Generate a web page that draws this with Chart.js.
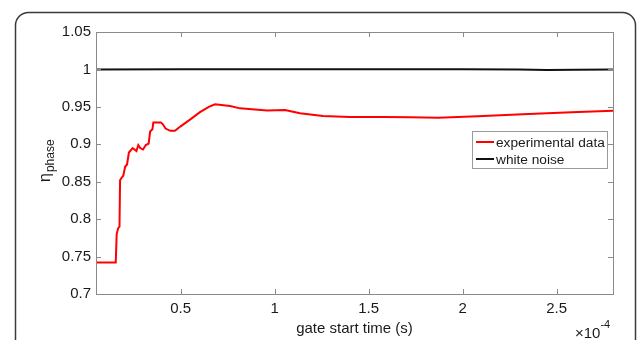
<!DOCTYPE html>
<html>
<head>
<meta charset="utf-8">
<script src="https://cdn.jsdelivr.net/npm/chart.js@4"></script>
<style>
  html, body { margin: 0; padding: 0; background: #fff; }
  #wrap { width: 638px; height: 340px; }
</style>
</head>
<body>
<div id="wrap"><canvas id="c" width="638" height="340"></canvas></div>
<script>
// gate start time, in units of 1e-4 s
const expTime = [0.05, 0.155, 0.16, 0.168, 0.175, 0.178, 0.185, 0.195, 0.205, 0.215, 0.225, 0.245,
  0.265, 0.275, 0.285, 0.3, 0.315, 0.33, 0.338, 0.35, 0.355, 0.375, 0.395, 0.405, 0.42, 0.445,
  0.47, 0.5, 0.55, 0.603, 0.65, 0.683, 0.763, 0.816, 0.96, 1.055, 1.135, 1.257, 1.4, 1.58,
  1.72, 1.87, 2.08, 2.32, 2.58, 2.8];
const expEta = [0.742, 0.742, 0.78, 0.788, 0.79, 0.852, 0.855, 0.858, 0.870, 0.873, 0.889, 0.895,
  0.891, 0.899, 0.895, 0.893, 0.899, 0.901, 0.917, 0.920, 0.929, 0.929, 0.929, 0.927, 0.921, 0.918,
  0.918, 0.924, 0.933, 0.943, 0.950, 0.9534, 0.951, 0.948, 0.945, 0.9458, 0.9414, 0.9378, 0.9364,
  0.9364, 0.936, 0.9355, 0.9374, 0.940, 0.9427, 0.9449];
const noiseTime = [0.05, 0.5, 0.8, 1.2, 1.6, 2.0, 2.3, 2.45, 2.6, 2.8];
const noiseEta = [1.0, 1.0002, 1.0004, 1.0002, 1.0003, 1.0001, 1.0, 0.9993, 0.9995, 1.0];
const xTicks = [0.5, 1, 1.5, 2, 2.5];
const yTicks = [0.7, 0.75, 0.8, 0.85, 0.9, 0.95, 1, 1.05];

const FONT = 'Liberation Sans, Arial, Helvetica, sans-serif';
const axisGray = '#8a8a8a';

const decor = {
  id: 'decor',
  beforeDraw(chart) {
    const ctx = chart.ctx;
    ctx.save();
    ctx.fillStyle = '#fff';
    ctx.fillRect(0, 0, chart.width, chart.height);
    // outer rounded frame
    ctx.strokeStyle = '#3a3a3a';
    ctx.lineWidth = 1.5;
    ctx.beginPath();
    ctx.roundRect(15.5, 12.5, 620, 400, 13);
    ctx.stroke();
    ctx.restore();
  },
  afterDatasetsDraw(chart) {
    const ctx = chart.ctx;
    const a = chart.chartArea;
    const xs = chart.scales.x, ys = chart.scales.y;
    ctx.save();
    // axes box
    ctx.strokeStyle = axisGray;
    ctx.lineWidth = 1;
    ctx.strokeRect(Math.round(a.left) + 0.5, Math.round(a.top) + 0.5,
      Math.round(a.right - a.left), Math.round(a.bottom - a.top));
    // inward ticks on all four sides
    ctx.beginPath();
    xTicks.forEach(v => {
      const px = Math.round(xs.getPixelForValue(v)) + 0.5;
      ctx.moveTo(px, a.bottom); ctx.lineTo(px, a.bottom - 5);
      ctx.moveTo(px, a.top); ctx.lineTo(px, a.top + 5);
    });
    yTicks.forEach(v => {
      const py = Math.round(ys.getPixelForValue(v)) + 0.5;
      ctx.moveTo(a.left, py); ctx.lineTo(a.left + 5, py);
      ctx.moveTo(a.right, py); ctx.lineTo(a.right - 5, py);
    });
    ctx.stroke();

    // legend
    const lx = 472, ly = 131, lw = 135, lh = 37;
    ctx.fillStyle = '#fff';
    ctx.fillRect(lx, ly, lw, lh);
    ctx.strokeStyle = '#9a9a9a';
    ctx.strokeRect(lx + 0.5, ly + 0.5, lw, lh);
    ctx.font = '13.7px ' + FONT;
    ctx.textBaseline = 'middle';
    chart.data.datasets.forEach((ds, i) => {
      const y = ly + 11 + i * 17;
      ctx.strokeStyle = ds.borderColor;
      ctx.lineWidth = 2;
      ctx.beginPath();
      ctx.moveTo(lx + 4, y); ctx.lineTo(lx + 22, y);
      ctx.stroke();
      ctx.fillStyle = '#1a1a1a';
      ctx.fillText(ds.label, lx + 24, y + 1);
    });

    // y label: eta with subscript "phase"
    ctx.fillStyle = '#1a1a1a';
    ctx.save();
    ctx.translate(50, 182);
    ctx.rotate(-Math.PI / 2);
    ctx.textBaseline = 'alphabetic';
    ctx.font = '16px ' + FONT;
    ctx.fillText('η', 0, 0);
    const ew = ctx.measureText('η').width;
    ctx.font = '12px ' + FONT;
    ctx.fillText('phase', ew + 1, 4);
    ctx.restore();

    // exponent label
    ctx.textBaseline = 'alphabetic';
    ctx.font = '15px ' + FONT;
    ctx.fillText('×10', 575, 338);
    const w = ctx.measureText('×10').width;
    ctx.font = '11px ' + FONT;
    ctx.fillText('-4', 575 + w, 328);
    ctx.restore();
  }
};

new Chart(document.getElementById('c'), {
  type: 'line',
  data: {
    datasets: [
      {
        label: 'experimental data',
        data: expTime.map((t, i) => ({ x: t, y: expEta[i] })),
        borderColor: '#ff0000',
        borderWidth: 2,
        pointRadius: 0,
        tension: 0
      },
      {
        label: 'white noise',
        data: noiseTime.map((t, i) => ({ x: t, y: noiseEta[i] })),
        borderColor: '#111111',
        borderWidth: 2,
        pointRadius: 0,
        tension: 0
      }
    ]
  },
  options: {
    responsive: false,
    animation: false,
    layout: { padding: { left: 0, top: 32, right: 25, bottom: 0 } },
    plugins: { legend: { display: false }, tooltip: { enabled: false } },
    scales: {
      x: {
        type: 'linear',
        min: 0.05,
        max: 2.8,
        afterFit: s => { s.height = 46; },
        afterBuildTicks: s => { s.ticks = xTicks.map(v => ({ value: v })); },
        grid: { display: false, drawTicks: false },
        border: { display: false },
        ticks: {
          padding: 6,
          color: '#1a1a1a',
          font: { family: FONT, size: 15 },
          maxRotation: 0,
          callback: v => String(v)
        },
        title: {
          display: true,
          text: 'gate start time (s)',
          color: '#1a1a1a',
          font: { family: FONT, size: 15 },
          padding: { top: 0, bottom: 2 }
        }
      },
      y: {
        min: 0.7,
        max: 1.05,
        afterFit: s => { s.width = 96; },
        afterBuildTicks: s => { s.ticks = yTicks.map(v => ({ value: v })); },
        grid: { display: false, drawTicks: false },
        border: { display: false },
        ticks: {
          padding: 5,
          color: '#1a1a1a',
          font: { family: FONT, size: 15 },
          callback: v => String(v)
        }
      }
    }
  },
  plugins: [decor]
});
</script>
</body>
</html>
